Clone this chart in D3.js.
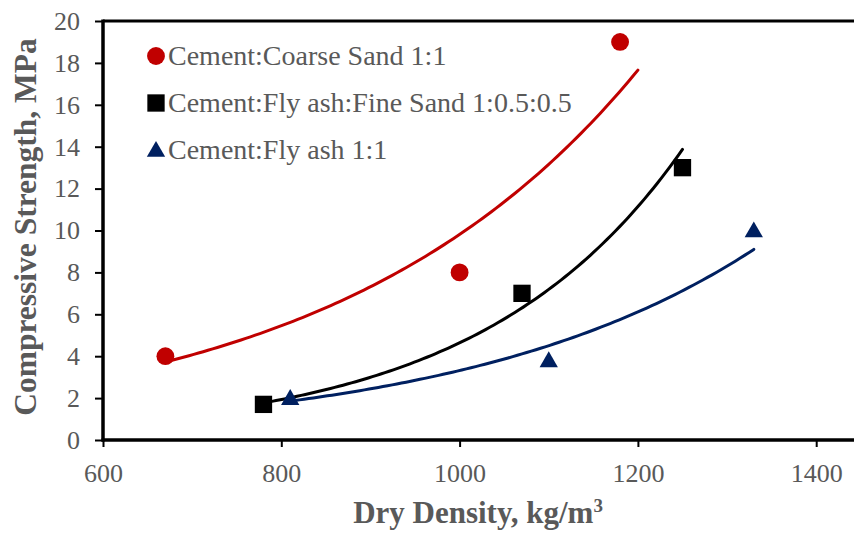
<!DOCTYPE html>
<html>
<head>
<meta charset="utf-8">
<script src="https://cdn.jsdelivr.net/npm/d3@7"></script>
<style>
  body { margin: 0; background: #fff; }
  text { font-family: "Liberation Serif", "Times New Roman", serif; fill: #595959; }
</style>
</head>
<body>
<div id="chart"></div>
<script>
(function() {

  // data
  const seriesNames = ["Cement:Coarse Sand 1:1", "Cement:Fly ash:Fine Sand 1:0.5:0.5", "Cement:Fly ash 1:1"];
  const coarseX = [670, 1000, 1180];
  const coarseY = [4, 8, 19];
  const flySandX = [780, 1070, 1250];
  const flySandY = [1.7, 7, 13];
  const flyAshX = [810, 1100, 1330];
  const flyAshY = [2, 3.8, 10];
  // trendline extents (exponential fit)
  const trendRange = [[670, 1200], [780, 1250], [810, 1330]];
  const xTicks = [600, 800, 1000, 1200, 1400];
  const yTicks = [0, 2, 4, 6, 8, 10, 12, 14, 16, 18, 20];

  const colors = ["#C00000", "#000000", "#002060"];
  const shapes = [d3.symbolCircle, d3.symbolSquare, d3.symbolTriangle];
  const sizes = [250, 300, 145];

  const series = [
    {xs: coarseX, ys: coarseY},
    {xs: flySandX, ys: flySandY},
    {xs: flyAshX, ys: flyAshY}
  ];

  const width = 854, height = 535;
  const margin = {top: 21, left: 103};

  const svg = d3.select("#chart").append("svg")
      .attr("width", width)
      .attr("height", height);

  const x = d3.scaleLinear().domain([600, 1440]).range([margin.left, margin.left + 840 * 0.8915]);
  const y = d3.scaleLinear().domain([0, 20]).range([440, margin.top]);

  // top frame line
  svg.append("line")
      .attr("x1", margin.left).attr("x2", width)
      .attr("y1", y(20)).attr("y2", y(20))
      .attr("stroke", "#000").attr("stroke-width", 3);

  // axes
  const xAxis = svg.append("g")
      .attr("transform", `translate(0,${y(0)})`)
      .call(d3.axisBottom(x).tickValues(xTicks).tickSize(7).tickPadding(17).tickFormat(d3.format("d")));
  xAxis.select(".domain").remove();
  xAxis.append("line")
      .attr("x1", margin.left - 1.5).attr("x2", width)
      .attr("stroke", "#000").attr("stroke-width", 3.5);

  const yAxis = svg.append("g")
      .attr("transform", `translate(${margin.left},0)`)
      .call(d3.axisLeft(y).tickValues(yTicks).tickSize(8).tickPadding(15));
  yAxis.select(".domain").remove();
  yAxis.append("line")
      .attr("y1", y(0) + 1.5).attr("y2", y(20) - 1.5)
      .attr("stroke", "#000").attr("stroke-width", 3.5);

  svg.selectAll(".tick line").attr("stroke", "#000").attr("stroke-width", 2);
  svg.selectAll(".tick text")
      .attr("fill", "#595959")
      .style("font-family", "'Liberation Serif', serif")
      .style("font-size", "26px");

  // axis titles
  svg.append("text")
      .attr("x", 478).attr("y", 523)
      .attr("text-anchor", "middle")
      .style("font-size", "31px").style("font-weight", "bold")
      .html('Dry Density, kg/m<tspan dy="-11" font-size="19">3</tspan>');

  svg.append("text")
      .attr("transform", `translate(36,227) rotate(-90)`)
      .attr("text-anchor", "middle")
      .style("font-size", "31.5px").style("font-weight", "bold")
      .text("Compressive Strength, MPa");

  // exponential fit: y = a * exp(b x)
  function expFit(xs, ys) {
    const ly = ys.map(Math.log);
    const mx = d3.mean(xs), my = d3.mean(ly);
    let sxy = 0, sxx = 0;
    xs.forEach((v, i) => { sxy += (v - mx) * (ly[i] - my); sxx += (v - mx) * (v - mx); });
    const b = sxy / sxx;
    const a = Math.exp(my - b * mx);
    return xv => a * Math.exp(b * xv);
  }

  const line = d3.line().x(d => x(d[0])).y(d => y(d[1]));

  series.forEach((s, i) => {
    const f = expFit(s.xs, s.ys);
    const [x0, x1] = trendRange[i];
    const pts = d3.range(0, 101).map(k => {
      const xv = x0 + (x1 - x0) * k / 100;
      return [xv, f(xv)];
    });
    svg.append("path")
        .attr("d", line(pts))
        .attr("fill", "none")
        .attr("stroke", colors[i])
        .attr("stroke-width", 3)
        .attr("stroke-linecap", "round");
  });

  series.forEach((s, i) => {
    svg.selectAll(null)
        .data(s.xs.map((v, j) => [v, s.ys[j]]))
        .enter().append("path")
        .attr("transform", d => `translate(${x(d[0])},${y(d[1]) + (i === 2 ? 1.5 : 0)})`)
        .attr("d", d3.symbol().type(shapes[i]).size(sizes[i]))
        .attr("fill", colors[i]);
  });

  // legend
  const legendY = [56, 103, 150];
  seriesNames.forEach((name, i) => {
    svg.append("path")
        .attr("transform", `translate(156,${legendY[i] + (i === 2 ? 1.5 : 0)})`)
        .attr("d", d3.symbol().type(shapes[i]).size(sizes[i]))
        .attr("fill", colors[i]);
    svg.append("text")
        .attr("x", 168).attr("y", legendY[i] + 9)
        .style("font-size", "28px")
        .text(name);
  });

})();
</script>
</body>
</html>
